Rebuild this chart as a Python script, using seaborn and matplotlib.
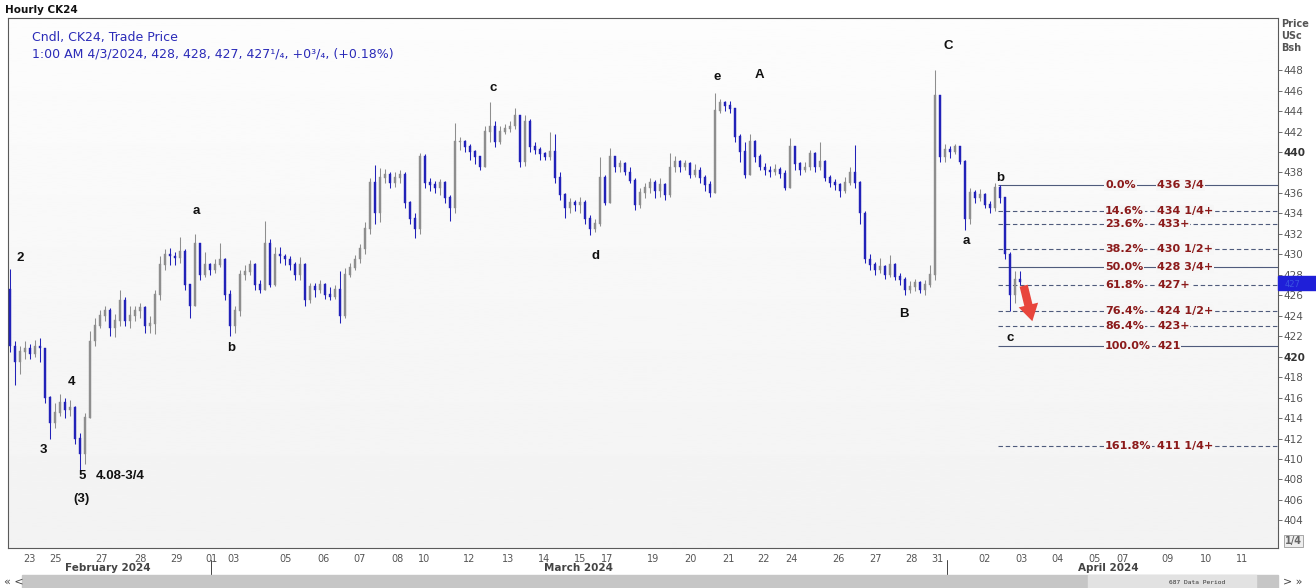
import numpy as np
import matplotlib
matplotlib.use("Agg")
import matplotlib.pyplot as plt
import matplotlib.transforms as mtransforms
from matplotlib.patches import Rectangle
import seaborn as sns

# hourly CK24 candles (resampled)
first_open = 426.5
closes = [421.0, 419.5, 420.5, 420.8, 420.3, 421.0, 420.8, 416.0, 413.5, 414.5,
          415.5, 414.8, 415.0, 412.0, 410.5, 414.0, 421.5, 423.0, 424.0, 424.5,
          422.8, 423.5, 425.5, 423.5, 424.0, 424.5, 424.8, 423.0, 423.2, 426.0,
          429.0, 430.0, 429.8, 429.6, 430.2, 427.0, 425.0, 431.0, 428.0, 429.0,
          428.5, 429.0, 429.5, 426.0, 423.0, 424.5, 428.0, 428.3, 429.0, 427.0,
          426.5, 431.0, 427.0, 430.0, 429.8, 429.5, 429.0, 428.0, 429.0, 425.5,
          426.8, 426.5, 427.0, 426.0, 425.8, 426.5, 424.0, 428.0, 428.7, 429.5,
          430.5, 432.5, 437.0, 434.0, 437.5, 437.8, 437.0, 437.5, 437.8, 435.0,
          433.5, 432.5, 439.5, 437.0, 436.8, 436.5, 437.0, 435.5, 434.5, 441.0,
          441.0, 440.5, 440.0, 439.5, 438.5, 442.0, 442.5, 441.0, 442.0, 442.3,
          442.5, 443.5, 439.0, 443.0, 440.5, 440.2, 439.8, 439.5, 440.0, 437.5,
          435.8, 434.5, 435.0, 434.8, 435.0, 433.5, 432.5, 433.0, 437.5, 435.0,
          439.5, 438.5, 438.8, 438.0, 437.2, 434.8, 436.0, 436.5, 437.0, 436.2,
          436.8, 435.8, 438.5, 439.0, 438.5, 438.8, 437.8, 438.2, 437.5, 436.8,
          436.0, 444.0, 444.8, 444.5, 444.2, 441.5, 440.0, 437.8, 441.0, 439.5,
          438.5, 438.2, 438.0, 438.3, 437.9, 436.5, 440.5, 438.8, 438.2, 438.5,
          439.8, 438.5, 439.0, 437.5, 437.0, 436.8, 436.2, 437.0, 438.0, 437.0,
          434.0, 429.5, 429.0, 428.5, 428.8, 428.0, 429.0, 427.8, 427.5, 426.5,
          426.8, 427.2, 426.5, 427.0, 428.0, 445.5, 439.5, 440.2, 440.0, 440.5,
          439.0, 433.5, 436.0, 435.5, 435.8, 434.8, 434.5, 436.5, 435.5, 430.0,
          426.0, 427.5, 427.25]
highs = [428.6, 421.5, 421.0, 421.5, 421.2, 421.6, 421.8, 420.8, 416.2, 415.5,
         416.4, 416.0, 415.8, 415.2, 412.5, 414.5, 422.5, 423.8, 424.6, 425.0,
         424.8, 424.2, 426.5, 425.8, 425.0, 425.0, 425.2, 425.0, 424.0, 426.5,
         429.8, 430.5, 430.6, 430.2, 431.7, 430.5, 427.0, 432.0, 431.0, 430.2,
         429.2, 429.5, 431.1, 429.6, 426.5, 425.0, 428.5, 429.0, 429.4, 429.2,
         427.5, 433.3, 431.5, 430.7, 430.7, 430.0, 429.8, 429.3, 429.7, 429.2,
         427.2, 427.2, 427.5, 427.2, 426.8, 427.0, 428.4, 428.7, 429.2, 429.9,
         431.0, 433.2, 437.5, 438.7, 438.4, 438.3, 438.0, 438.0, 438.2, 438.0,
         435.2, 434.0, 439.9, 439.8, 437.5, 437.2, 437.4, 437.2, 435.8, 442.8,
         441.5, 441.2, 440.8, 440.2, 439.6, 442.5, 444.9, 443.0, 442.5, 442.7,
         443.0, 444.3, 443.5, 443.6, 443.2, 441.0, 440.5, 440.0, 442.0, 441.8,
         438.0, 436.0, 435.5, 435.3, 435.6, 435.3, 433.8, 433.5, 439.5, 437.8,
         440.4, 439.6, 439.2, 439.0, 438.5, 437.5, 436.5, 437.0, 437.5, 437.3,
         437.5, 437.0, 439.9, 439.6, 439.2, 439.2, 439.0, 438.8, 438.5, 437.8,
         437.2, 445.8, 445.2, 445.0, 445.0, 444.3, 441.8, 441.0, 441.8, 441.2,
         439.8, 438.9, 438.6, 438.8, 438.5, 438.2, 441.4, 440.6, 439.0, 439.0,
         440.2, 440.0, 441.0, 439.2, 437.8, 437.4, 437.0, 437.6, 438.5, 440.7,
         437.2, 434.2, 430.0, 429.3, 429.6, 429.0, 429.9, 429.2, 428.2, 427.8,
         427.4, 427.6, 427.4, 427.5, 429.0, 448.0, 445.6, 440.8, 440.6, 440.8,
         440.6, 439.2, 436.5, 436.3, 436.4, 436.0, 435.2, 437.0, 436.75, 435.6,
         430.2, 428.4, 428.4]
lows = [420.5, 417.2, 418.3, 419.8, 419.8, 420.0, 419.5, 415.5, 412.0, 413.0,
        414.2, 414.0, 414.2, 411.5, 408.75, 409.5, 414.0, 421.0, 422.8, 423.5,
        422.0, 421.9, 423.0, 423.0, 422.8, 423.5, 423.8, 422.3, 422.3, 422.2,
        425.5, 428.5, 429.0, 429.0, 429.2, 426.5, 423.8, 425.0, 427.5, 427.8,
        428.0, 428.2, 428.8, 425.5, 422.0, 422.3, 424.0, 427.5, 428.0, 426.5,
        426.2, 426.5, 426.8, 426.9, 429.2, 429.0, 428.5, 427.5, 427.5, 425.0,
        425.2, 425.8, 426.2, 425.6, 425.5, 425.6, 423.3, 423.8, 427.8, 428.5,
        429.2, 430.0, 432.0, 433.0, 433.2, 437.0, 436.5, 436.6, 437.0, 434.5,
        433.0, 431.6, 432.0, 436.5, 436.2, 436.0, 435.8, 435.0, 433.3, 434.0,
        440.2, 440.0, 439.2, 438.8, 438.2, 438.5, 441.0, 440.5, 440.8, 441.8,
        442.0, 442.3, 438.5, 438.6, 440.0, 439.8, 439.2, 439.2, 439.2, 437.0,
        435.3, 433.6, 434.0, 434.2, 434.0, 433.0, 431.9, 432.2, 432.8, 434.8,
        435.0, 438.0, 438.0, 437.8, 437.0, 434.3, 434.5, 435.5, 436.0, 435.5,
        435.6, 435.3, 435.6, 438.0, 438.0, 438.2, 437.5, 437.6, 437.0, 436.2,
        435.6, 436.0, 443.8, 444.0, 443.8, 441.0, 439.0, 437.5, 437.8, 439.0,
        438.2, 437.8, 437.6, 437.8, 437.5, 436.3, 436.5, 438.2, 437.8, 438.0,
        438.2, 438.0, 438.2, 437.2, 436.6, 436.3, 435.6, 436.0, 436.8, 436.5,
        433.0, 429.2, 428.5, 428.0, 428.2, 427.6, 427.8, 427.5, 427.0, 426.0,
        426.2, 426.4, 426.2, 426.0, 426.8, 427.5, 439.0, 439.0, 439.4, 439.8,
        438.8, 432.4, 433.0, 435.0, 435.2, 434.5, 434.0, 434.2, 435.0, 429.5,
        424.5, 425.2, 427.0]

# x axis: day labels and their bar positions
day_labels = ["23", "25", "27", "28", "29", "01", "03", "05", "06", "07", "08", "10",
              "12", "13", "14", "15", "17", "19", "20", "21", "22", "24", "26", "27",
              "28", "31", "02", "03", "04", "05", "07", "09", "10", "11"]
day_pos = [3.8, 9.2, 18.4, 26.0, 33.2, 40.2, 44.6, 55.2, 62.6, 70.0, 77.4, 82.8,
           91.8, 99.6, 106.8, 114.0, 119.4, 128.6, 136.0, 143.6, 150.8, 156.2, 165.6, 173.0,
           180.2, 185.4, 195.0, 202.2, 209.6, 217.0, 222.6, 231.6, 239.2, 246.4]
month_labels = ["February 2024", "March 2024", "April 2024"]
month_pos = [19.6, 113.6, 219.6]
month_breaks = [40.2, 187.4]

# Fibonacci retracement levels
fib_pct = ["0.0%", "14.6%", "23.6%", "38.2%", "50.0%", "61.8%", "76.4%", "86.4%", "100.0%", "161.8%"]
fib_txt = ["436 3/4", "434 1/4+", "433+", "430 1/2+", "428 3/4+", "427+", "424 1/2+", "423+", "421", "411 1/4+"]
fib_val = [436.75, 434.25, 433.0, 430.5, 428.75, 427.0, 424.5, 423.0, 421.0, 411.25]
fib_solid = [True, False, False, False, True, False, False, False, True, False]
fib_start = 197.6

# Elliott wave labels
wave_text = ["2", "3", "4", "5", "(3)", "4.08-3/4", "a", "b", "c", "d", "e", "A", "B", "C", "a", "b", "c"]
wave_x = [2.0, 6.6, 12.4, 14.4, 14.4, 22.0, 37.2, 44.2, 96.6, 117.2, 141.4, 149.8, 178.8, 187.6, 191.2, 198.0, 200.0]
wave_y = [429.6, 410.9, 417.5, 408.3, 406.1, 408.3, 434.2, 420.8, 446.3, 429.8, 447.3, 447.5, 424.2, 450.4, 431.3, 437.5, 421.8]

sns.set_theme(style="white")
plt.rcParams['font.family'] = ['DejaVu Sans']

closes = np.array(closes)
opens = np.concatenate([[first_open], closes[:-1]])
highs = np.maximum(np.array(highs), np.maximum(opens, closes))
lows = np.minimum(np.array(lows), np.minimum(opens, closes))
xs = np.arange(len(closes))
down = closes < opens

blue = '#2222b8'
grey = '#8e8e8e'
colors = np.where(down, blue, grey)

fig = plt.figure(figsize=(13.16, 5.88), dpi=100, facecolor='white')
ax = fig.add_axes([8 / 1316, 40 / 588, 1270 / 1316, 530 / 588])

# soft vertical gradient background
grad = np.linspace(0.99, 0.95, 256).reshape(-1, 1)
ax.imshow(grad, cmap='gray', vmin=0, vmax=1, extent=[0, 1, 0, 1], transform=ax.transAxes,
          aspect='auto', zorder=0)

ax.vlines(xs, lows, highs, colors=colors, lw=0.75, zorder=3)
ax.bar(xs, np.abs(closes - opens) + 0.08, bottom=np.minimum(opens, closes), width=0.45,
       color=colors, edgecolor=colors, linewidth=0.3, zorder=4)

ax.set_xlim(-0.4, 253.6)
ax.set_ylim(401.3, 453.1)

# fib lines
for pct, txt, val, solid in zip(fib_pct, fib_txt, fib_val, fib_solid):
    ax.hlines(val, fib_start, 253.6, colors='#4f5b7c', lw=0.8,
              linestyles='-' if solid else (0, (4, 2.5)), zorder=2)
    bb = dict(boxstyle='square,pad=0.08', fc='#f6f6f6', ec='none')
    ax.text(219.0, val, pct, color='#8b1a1a', fontsize=8, fontweight='bold', va='center',
            ha='left', bbox=bb, zorder=5)
    ax.text(229.4, val, txt, color='#8b1a1a', fontsize=8, fontweight='bold', va='center',
            ha='left', bbox=bb, zorder=5)

# wave labels
for t, x, y in zip(wave_text, wave_x, wave_y):
    ax.text(x, y, t, ha='center', va='center', fontsize=9.5, fontweight='bold',
            color='#111111', family=['Liberation Sans', 'DejaVu Sans'], zorder=6)

# red arrow
ax.annotate('', xy=(204.6, 423.2), xytext=(202.6, 427.2),
            arrowprops=dict(arrowstyle='simple,head_width=1.2,head_length=1.0,tail_width=0.5',
                            fc='#e8453c', ec='none'), zorder=7)

# axes styling
for s in ax.spines.values():
    s.set_color('#5a5a5a')
    s.set_linewidth(0.8)
ax.yaxis.tick_right()
ax.set_yticks(np.arange(404, 449, 2))
ax.tick_params(axis='y', direction='out', length=3, width=0.6, color='#555555',
               labelsize=7.5, labelcolor='#555555', pad=1)
for lab in ax.get_yticklabels():
    if lab.get_text() in ('420', '440'):
        lab.set_fontweight('bold')
        lab.set_color('#333333')
ax.set_xticks(day_pos)
ax.set_xticklabels(day_labels)
ax.tick_params(axis='x', direction='out', length=3, width=0.6, color='#555555',
               labelsize=7, labelcolor='#555555', pad=1)
ax.grid(False)

bx = mtransforms.blended_transform_factory(ax.transData, ax.transAxes)
for p, m in zip(month_pos, month_labels):
    ax.text(p, -0.038, m, transform=bx, ha='center', va='center', fontsize=7.5,
            fontweight='bold', color='#444444', clip_on=False)
for p in month_breaks:
    ax.plot([p, p], [-0.022, -0.052], transform=bx, color='#444444', lw=0.7, clip_on=False)

# current price marker on the price scale
by = mtransforms.blended_transform_factory(ax.transAxes, ax.transData)
ax.add_patch(Rectangle((1.0, 426.55), 0.0305, 1.35, transform=by, color='#1f1fd8',
                       clip_on=False, zorder=8))
ax.text(1.005, 427.05, '427', transform=by, fontsize=6, color='#3a55e0', va='center',
        clip_on=False, zorder=9)

# header texts
fig.text(5 / 1316, 1 - 10 / 588, 'Hourly CK24', fontsize=7.5, fontweight='bold',
         color='#111111', va='center')
fig.text(32 / 1316, 1 - 37 / 588, 'Cndl, CK24, Trade Price', fontsize=9, color='#2b2bb8',
         va='center')
fig.text(32 / 1316, 1 - 54 / 588, '1:00 AM 4/3/2024, 428, 428, 427, 427\u00b9/\u2084, +0\u00b3/\u2084, (+0.18%)',
         fontsize=9, color='#2b2bb8', va='center')
fig.text(1281 / 1316, 1 - 36 / 588, 'Price\nUSc\nBsh', fontsize=7, fontweight='bold',
         color='#555555', va='center', linespacing=1.25)
fig.text(1285 / 1316, 1 - 541 / 588, '1/4', fontsize=7, fontweight='bold', color='#666666',
         va='center', bbox=dict(boxstyle='square,pad=0.15', fc='#eeeeee', ec='#999999', lw=0.6))

# scroll bar at the bottom
fig.patches.append(Rectangle((22 / 1316, 0), 1278 / 1316 - 22 / 1316, 13 / 588,
                             transform=fig.transFigure, color='#c6c6c6', zorder=0))
fig.patches.append(Rectangle((1088 / 1316, 0), 168 / 1316, 13 / 588,
                             transform=fig.transFigure, color='#e2e2e2', zorder=1))
fig.text(1197 / 1316, 6 / 588, '687 Data Period', fontsize=4.5, family='DejaVu Sans Mono',
         ha='center', va='center', color='#333333', zorder=2)
fig.text(4 / 1316, 6 / 588, '\u00ab <', fontsize=8, va='center', color='#444444')
fig.text(1283 / 1316, 6 / 588, '> \u00bb', fontsize=8, va='center', color='#444444')

fig.savefig('out.png', dpi=100, facecolor='white')
